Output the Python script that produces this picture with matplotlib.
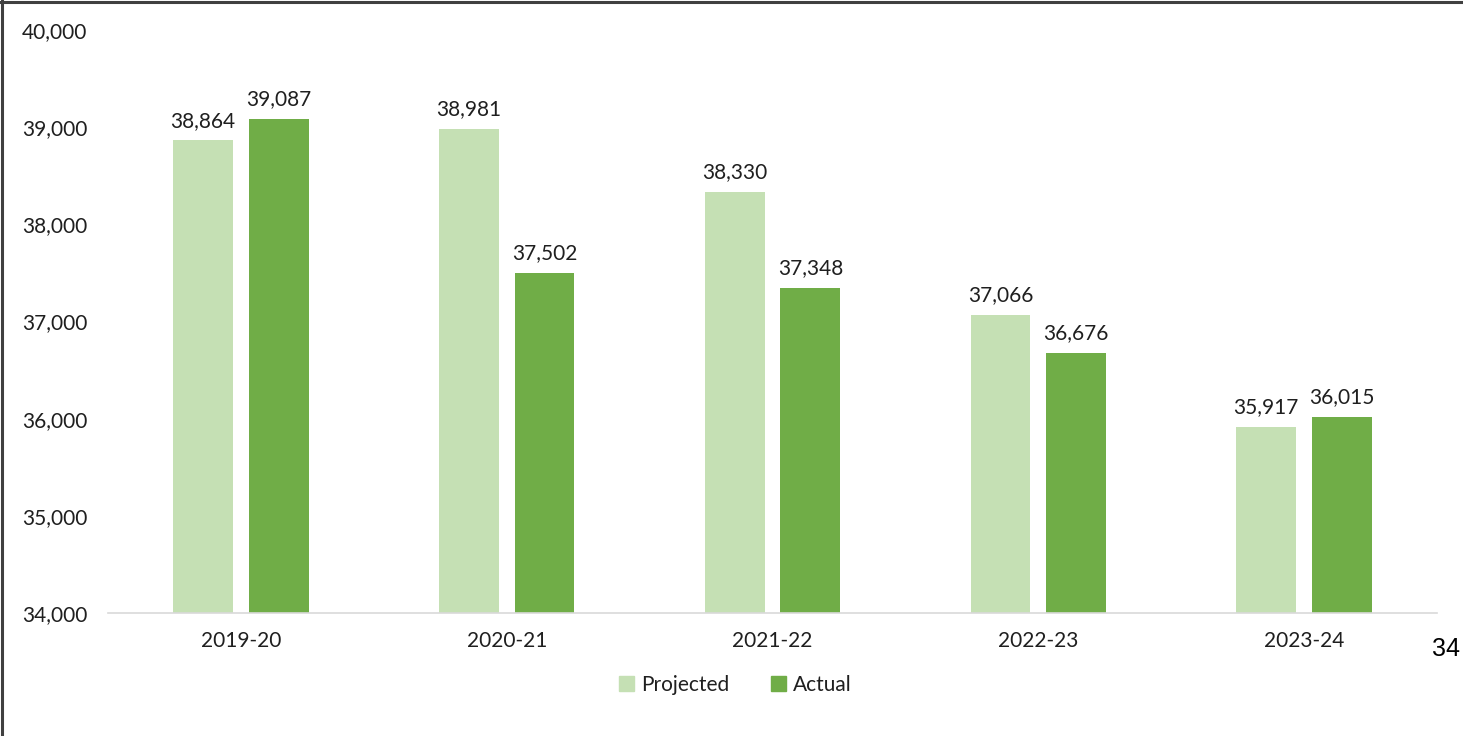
import matplotlib
matplotlib.use("Agg")
import matplotlib.pyplot as plt
from matplotlib.lines import Line2D
from matplotlib.patches import Patch
import numpy as np

years = ["2019-20", "2020-21", "2021-22", "2022-23", "2023-24"]
projected = [38864, 38981, 38330, 37066, 35917]
actual = [39087, 37502, 37348, 36676, 36015]
yticks = [34000, 35000, 36000, 37000, 38000, 39000, 40000]

plt.rcParams["font.family"] = ["Lato", "DejaVu Sans"]

W, H = 1463, 736
fig = plt.figure(figsize=(W / 100, H / 100), dpi=100)
ax = fig.add_axes([108 / W, 1 - 613 / H, (1437 - 108) / W, (613 - 30) / H])

light = "#C5E0B4"
dark = "#70AD47"
txt = "#1F1F1F"
fs = 15

x = np.arange(len(years))
bw = 0.225
off = (bw + 0.06) / 2
bp = ax.bar(x - off, projected, bw, color=light, zorder=2)
ba = ax.bar(x + off, actual, bw, color=dark, zorder=2)

for rects, vals in ((bp, projected), (ba, actual)):
    for r, v in zip(rects, vals):
        ax.annotate(f"{v:,}", (r.get_x() + r.get_width() / 2, v),
                    xytext=(0, 7), textcoords="offset points",
                    ha="center", va="bottom", fontsize=fs, color=txt)

ax.set_xlim(-0.5, len(years) - 0.5)
ax.set_ylim(34000, 40000)
ax.set_yticks(yticks)
ax.set_yticklabels([f"{t:,}" for t in yticks], fontsize=fs, color=txt)
ax.set_xticks(x)
ax.set_xticklabels(years, fontsize=fs, color=txt)
ax.tick_params(axis="both", length=0)
ax.tick_params(axis="y", pad=15)
ax.tick_params(axis="x", pad=13)
for s in ("top", "right", "left"):
    ax.spines[s].set_visible(False)
ax.spines["bottom"].set_color("#D9D9D9")
ax.spines["bottom"].set_linewidth(1.2)

handles = [Patch(color=light, label="Projected"), Patch(color=dark, label="Actual")]
fig.legend(handles=handles, loc="center", bbox_to_anchor=(735 / W, 1 - 685 / H),
           ncol=2, frameon=False, fontsize=fs, handlelength=0.75,
           handleheight=0.75, handletextpad=0.3, columnspacing=2.0,
           labelcolor=txt)

fig.text(1446 / W, 1 - 649 / H, "34", fontsize=18, color="black",
         ha="center", va="center", family=["Liberation Sans", "DejaVu Sans"])

# frame lines along the top and left edges
fig.add_artist(Line2D([0, 1], [1 - 1.5 / H, 1 - 1.5 / H], color="#404040", lw=2.2,
                      transform=fig.transFigure))
fig.add_artist(Line2D([1.5 / W, 1.5 / W], [0, 1], color="#404040", lw=2.2,
                      transform=fig.transFigure))

fig.savefig("out.png", dpi=100)
